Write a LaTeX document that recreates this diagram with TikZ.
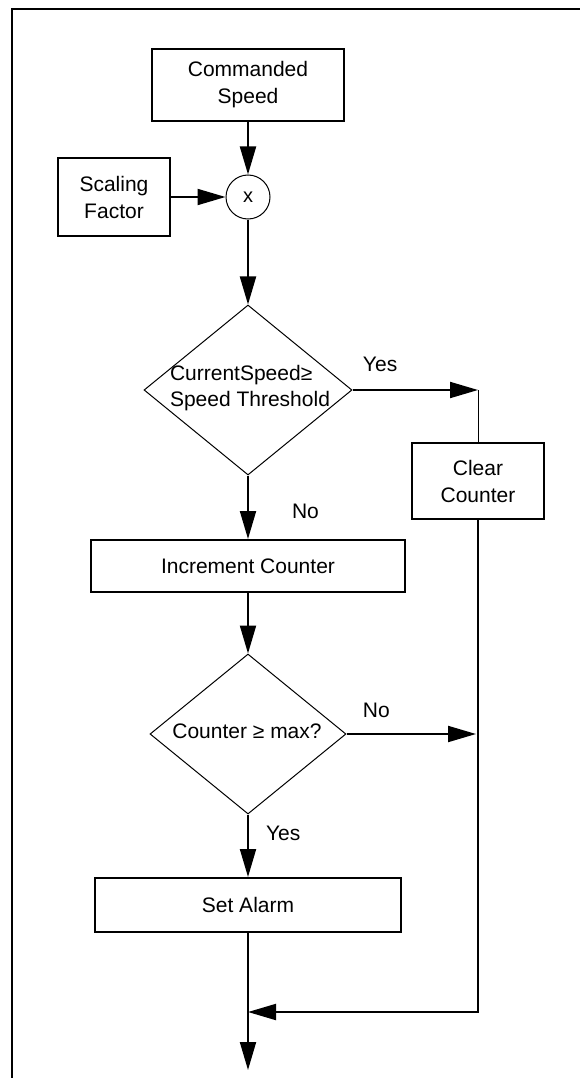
\documentclass[tikz,border=0pt]{standalone}
\usepackage{fontspec}
\setmainfont{Liberation Sans}
\usetikzlibrary{shapes.geometric,arrows.meta}
\begin{document}
\begin{tikzpicture}[x=1pt,y=-1pt,line width=2pt,>={Triangle[length=28pt,width=16pt]}]
\tikzset{
  block/.style={draw,shape=rectangle,align=center,inner sep=0pt,font=\fontsize{21}{27}\selectfont},
  decision/.style={draw,shape=diamond,line width=1pt,inner sep=0pt},
  junction/.style={draw,shape=circle,line width=1pt,minimum size=44pt,inner sep=0pt,font=\fontsize{20}{24}\selectfont},
  lbl/.style={inner sep=0pt,font=\fontsize{21}{26}\selectfont}
}
\useasboundingbox (0,0) rectangle (580,1078);
\draw (12,1078) -- (12,9) -- (580,9);
\node[block,minimum width=192pt,minimum height=72pt] (speed) at (248,85) {Commanded\\Speed};
\node[block,minimum width=112pt,minimum height=77pt] (scaling) at (114,197) {Scaling\\Factor};
\node[junction] (mult) at (248,197) {x};
\node[decision,minimum width=208pt,minimum height=170pt] (test) at (248,390) {};
\node[lbl,align=left] (testtext) at (250,388) {CurrentSpeed≥\\Speed Threshold};
\node[block,minimum width=132pt,minimum height=76pt] (clear) at (478,481) {Clear\\Counter};
\node[block,minimum width=314pt,minimum height=52pt] (inc) at (248,566) {Increment Counter};
\node[decision,minimum width=196pt,minimum height=160pt] (check) at (248,734) {};
\node[lbl] (checktext) at (247,731) {Counter ≥ max?};
\node[block,minimum width=306pt,minimum height=54pt] (alarm) at (248,905) {Set Alarm};
\coordinate (yesend) at (478,390);
\coordinate (noend) at (476,734);
\coordinate (merge) at (248,1012);
\coordinate (out) at (248,1070);
\draw[->] (speed) -- (mult);
\draw[->] (scaling) -- (mult);
\draw[->] (mult) -- (test);
\draw[->] (test) -- node[lbl,pos=0.22,above=17pt]{Yes} (yesend);
\draw[line width=1pt] (yesend) -- (clear);
\draw[->] (test) -- node[lbl,pos=0.57,right=43pt]{No} (inc);
\draw[->] (inc) -- (check);
\draw[->] (check) -- node[lbl,pos=0.23,above=15pt]{No} (noend);
\draw[->] (check) -- node[lbl,pos=0.3,right=17pt]{Yes} (alarm);
\draw[->] (clear) |- (merge);
\draw[->] (alarm) -- (out);
\end{tikzpicture}
\end{document}
